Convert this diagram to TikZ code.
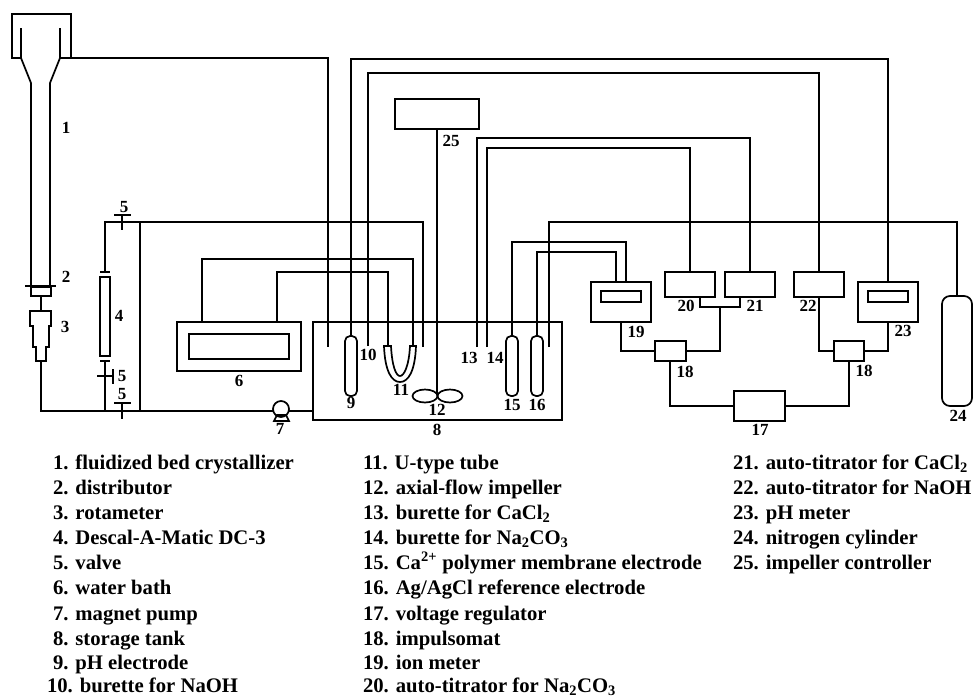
\documentclass[tikz,border=0pt]{standalone}
\usepackage{fontspec}
\usetikzlibrary{shapes.geometric}
\setmainfont{Liberation Serif}
\newcommand{\bx}[6][]{%
 \pgfmathsetmacro{\bxw}{#5-#3}\pgfmathsetmacro{\bxh}{#6-#4}%
 \node[boxn,#1,minimum width=\bxw pt,minimum height=\bxh pt] (#2) at ({(#3+#5)/2},{(#4+#6)/2}) {};}
\tikzset{
 boxn/.style={draw,rectangle,inner sep=0pt,outer sep=0pt},
 electrode/.style={rounded corners=5pt},
 cylinder shape/.style={rounded corners=8pt},
 num/.style={inner sep=0pt,outer sep=0pt,font=\bfseries\fontsize{17}{17}\selectfont},
 leg/.style={inner sep=0pt,outer sep=0pt,anchor=base west,font=\bfseries\fontsize{20.7}{20.7}\selectfont},
}
\begin{document}
\begin{tikzpicture}[x=1pt,y=-1pt,line width=1.7pt,every path/.style={line join=miter}]
\useasboundingbox (0,0) rectangle (974,697);
% crystallizer
\draw (21,28) -- (21,58) -- (31,83) -- (31,285);
\draw (60,28) -- (60,58) -- (50,83) -- (50,285);
\draw (21,58) -- (12,58) -- (12,14) -- (71,14) -- (71,58) -- (60,58);
\coordinate (hop) at (71,58);
\draw[line width=2.8pt] (25,286) -- (56,286);
\bx{dist}{31}{287}{51}{296}
\node[draw=none,inner sep=0pt,minimum size=0pt] (rot) at (41,311) {};
\draw (dist.south) -- (rot.center);
\draw (30,311) -- (51,311) -- (51,326) -- (49,326) -- (49,347) -- (46,347) -- (46,361) -- (36,361) -- (36,347) -- (33,347) -- (33,326) -- (30,326) -- cycle;
\coordinate (rotout) at (41,361);
\coordinate (joinA) at (105,411);
\coordinate (joinB) at (140,411);
% tank and equipment
\bx{tank}{313}{322}{562}{420}
\bx{bath}{177}{322}{301}{371}
\bx{bathin}{189}{334}{289}{359}
\bx[electrode]{e9}{345}{336}{357}{396}
\bx[electrode]{e15}{506}{336}{518}{396}
\bx[electrode]{e16}{531}{336}{543}{396}
\bx{desc}{100}{277}{110}{356}
\bx{b25}{395}{99}{479}{129}
\bx{b20}{665}{272}{715}{297}
\bx{b21}{725}{272}{775}{297}
\bx{b22}{794}{272}{844}{297}
\bx{b19}{591}{282}{651}{322}
\bx{b19in}{601}{291}{641}{302}
\bx{b23}{858}{282}{918}{322}
\bx{b23in}{868}{291}{908}{302}
\bx{b18a}{655}{341}{686}{361}
\bx{b18b}{834}{341}{864}{361}
\bx{b17}{734}{391}{785}{421}
\bx[cylinder shape]{b24}{942}{296}{972}{406}
\node[draw,circle,inner sep=0pt,outer sep=0pt,minimum size=16pt] (pump) at (281,409) {};
\draw (274,421) -- (289,421) -- (286,415) -- (277,415) -- cycle;
% U tube
\draw (384,346) .. controls (385,372) and (392,382) .. (400,382) .. controls (408,382) and (415,372) .. (416,346) -- (410,346) .. controls (409,366) and (404,376) .. (400,376) .. controls (396,376) and (392,366) .. (391,346) -- cycle;
\coordinate (uL) at (388,346);
\coordinate (uR) at (413,346);
% impeller
\node[draw,ellipse,inner sep=0pt,outer sep=0pt,minimum width=25pt,minimum height=13pt] (impL) at (425,396) {};
\node[draw,ellipse,inner sep=0pt,outer sep=0pt,minimum width=25pt,minimum height=13pt] (impR) at (450,396) {};
\coordinate (hub) at (437,394);
% pipes
\draw (rotout) -- (41,411) -- (pump.west |- 0,411);
\draw (pump.east |- 0,411) -- (tank.west |- 0,411);
\draw (105,272) -- (105,222) -- (423,222) -- (423,347);
\draw (140,222) -- (joinB);
\draw (105,361) -- (joinA);
\draw (100,272) -- (110,272) (100,361) -- (110,361);
% valves
\draw (114,215) -- (131,215) (122,215) -- (122,230);
\draw (114,403) -- (131,403) (122,403) -- (122,419);
\draw (97,376) -- (113,376) (113,369) -- (113,384);
% crystallizer to tank
\draw (hop) -- (328,58) -- (328,347);
% bath loops
\draw (bath.north -| 202,0) -- (202,259) -- (413,259) -- (uR);
\draw (bath.north -| 277,0) -- (277,272) -- (388,272) -- (uL);
% long lines
\draw (e9.north) -- (351,59) -- (888,59) -- (b23.north);
\draw (368,346) -- (368,73) -- (819,73) -- (b22.north);
\draw (b25.south) -- (hub);
\draw (477,347) -- (477,138) -- (750,138) -- (b21.north);
\draw (487,347) -- (487,148) -- (690,148) -- (b20.north);
\draw (e15.north) -- (512,242) -- (626,242) -- (b19.north -| 626,0);
\draw (e16.north) -- (537,252) -- (616,252) -- (b19.north -| 616,0);
\draw (549,347) -- (549,222) -- (957,222) -- (b24.north);
% control wiring
\draw (b20.south -| 700,0) -- (700,307) -- (740,307) -- (b21.south -| 740,0);
\draw (720,307) -- (720,351) -- (b18a.east);
\draw (b18a.west) -- (621,351) -- (b19.south);
\draw (b18a.south -| 670,0) -- (670,406) -- (b17.west);
\draw (b17.east) -- (849,406) -- (b18b.south);
\draw (b22.south) -- (819,351) -- (b18b.west);
\draw (b18b.east) -- (888,351) -- (b23.south);
% numbers
\node[num] (n1) at (66,128) {1};
\node[num] (n2) at (66,277) {2};
\node[num] (n3) at (65,327) {3};
\node[num] (n4) at (119,316) {4};
\node[num] (n5a) at (124,207) {5};
\node[num] (n5b) at (122,376) {5};
\node[num] (n5c) at (122,394) {5};
\node[num] (n6) at (239,381) {6};
\node[num] (n7) at (280,429) {7};
\node[num] (n8) at (437,430) {8};
\node[num] (n9) at (351,403) {9};
\node[num] (n10) at (368,355) {10};
\node[num] (n11) at (401,390) {11};
\node[num] (n12) at (437,410) {12};
\node[num] (n13) at (469,358) {13};
\node[num] (n14) at (495,358) {14};
\node[num] (n15) at (512,405) {15};
\node[num] (n16) at (537,405) {16};
\node[num] (n17) at (760,430) {17};
\node[num] (n18a) at (685,372) {18};
\node[num] (n18b) at (864,371) {18};
\node[num] (n19) at (636,332) {19};
\node[num] (n20) at (686,306) {20};
\node[num] (n21) at (755,306) {21};
\node[num] (n22) at (808,306) {22};
\node[num] (n23) at (903,331) {23};
\node[num] (n24) at (958,416) {24};
\node[num] (n25) at (451,141) {25};
% legend
\node[leg] (l1) at (53,469) {1. fluidized bed crystallizer};
\node[leg] (l2) at (53,494) {2. distributor};
\node[leg] (l3) at (53,519) {3. rotameter};
\node[leg] (l4) at (53,544) {4. Descal-A-Matic DC-3};
\node[leg] (l5) at (53,569) {5. valve};
\node[leg] (l6) at (53,594.5) {6. water bath};
\node[leg] (l7) at (53,620) {7. magnet pump};
\node[leg] (l8) at (53,645) {8. storage tank};
\node[leg] (l9) at (53,669.5) {9. pH electrode};
\node[leg] (l10) at (47,692) {10. burette for NaOH};
\node[leg] (l11) at (363,469) {11. U-type tube};
\node[leg] (l12) at (363,494) {12. axial-flow impeller};
\node[leg] (l13) at (363,519) {13. burette for CaCl\textsubscript{2}};
\node[leg] (l14) at (363,544) {14. burette for Na\textsubscript{2}CO\textsubscript{3}};
\node[leg] (l15) at (363,569) {15. Ca\textsuperscript{2+} polymer membrane electrode};
\node[leg] (l16) at (363,594.5) {16. Ag/AgCl reference electrode};
\node[leg] (l17) at (363,620) {17. voltage regulator};
\node[leg] (l18) at (363,645) {18. impulsomat};
\node[leg] (l19) at (363,669.5) {19. ion meter};
\node[leg] (l20) at (363,692) {20. auto-titrator for Na\textsubscript{2}CO\textsubscript{3}};
\node[leg] (l21) at (733,469) {21. auto-titrator for CaCl\textsubscript{2}};
\node[leg] (l22) at (733,494) {22. auto-titrator for NaOH};
\node[leg] (l23) at (733,519) {23. pH meter};
\node[leg] (l24) at (733,544) {24. nitrogen cylinder};
\node[leg] (l25) at (733,569) {25. impeller controller};
\end{tikzpicture}
\end{document}
